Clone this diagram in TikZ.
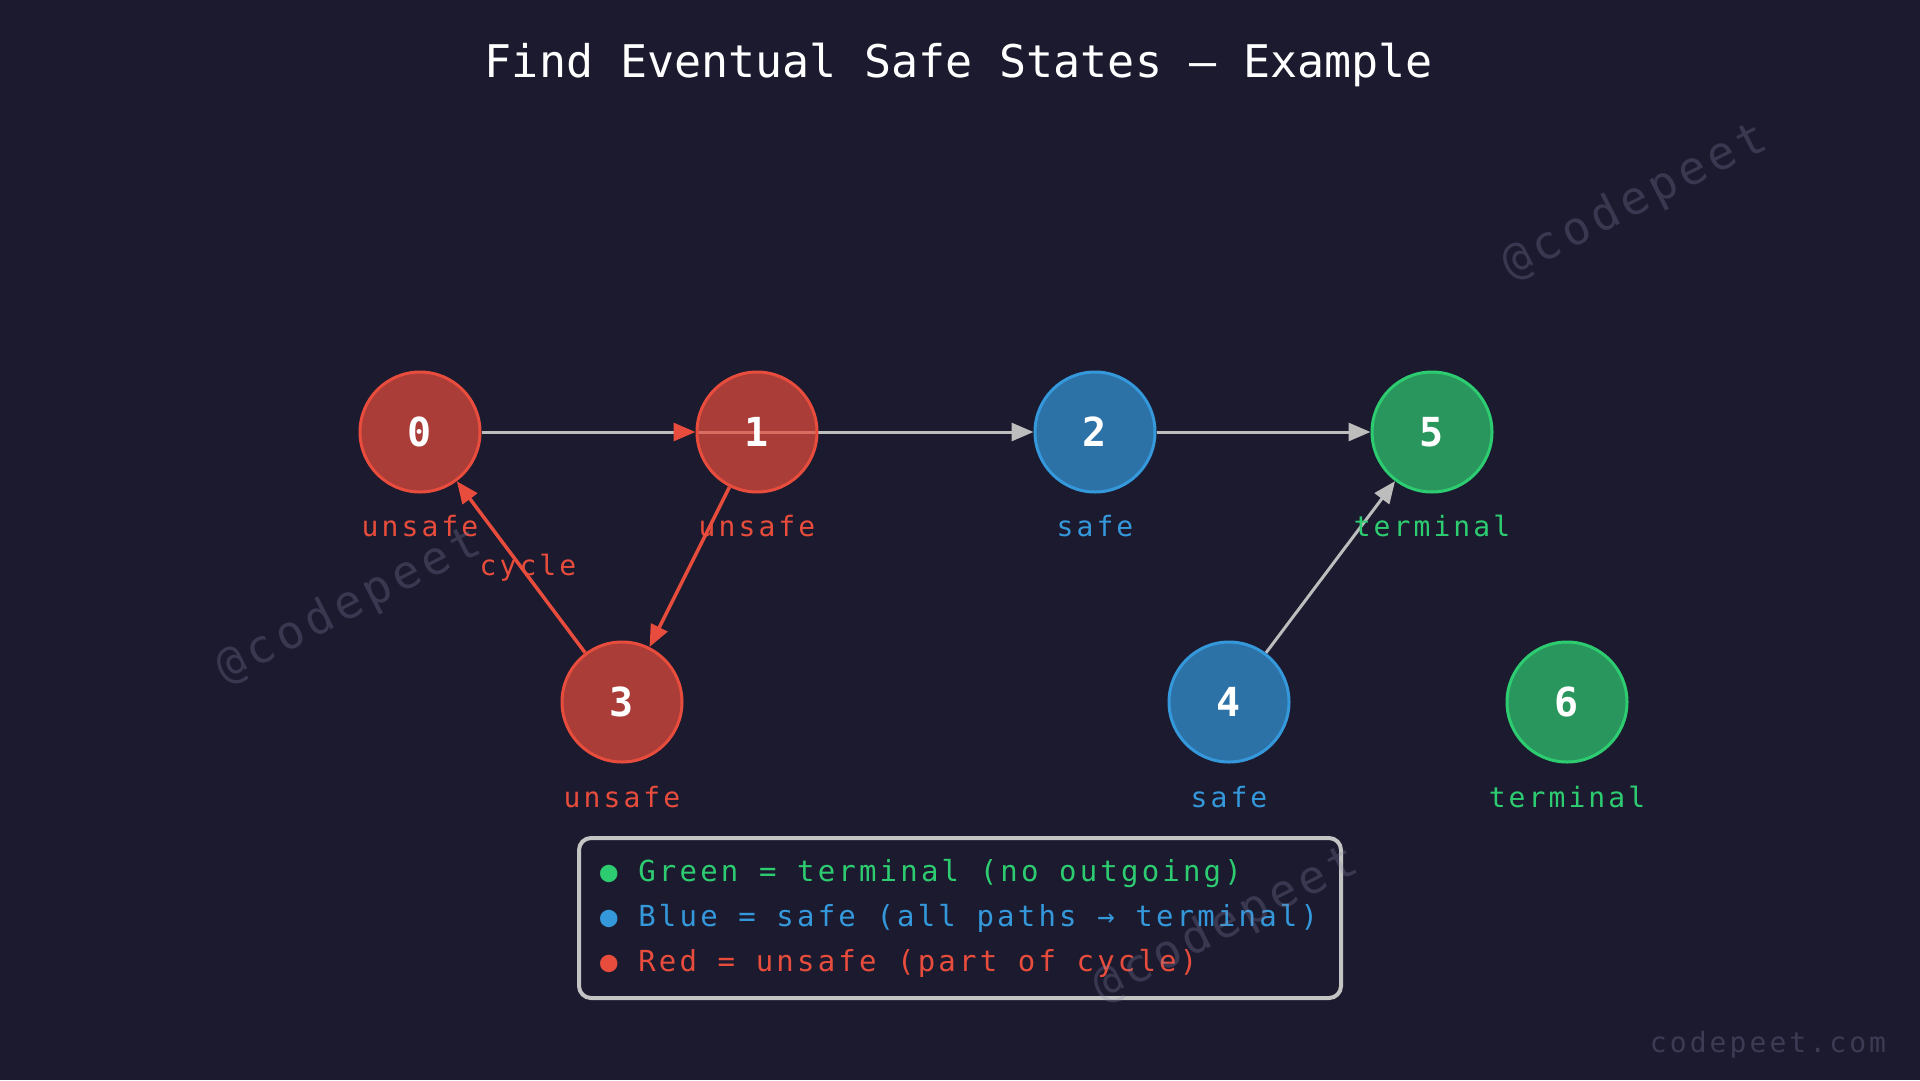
\documentclass[tikz,border=0pt]{standalone}
\usepackage{fontspec}
\setmainfont{DejaVu Sans Mono}
\newfontfamily\spaced[LetterSpace=11]{DejaVu Sans Mono}
\usetikzlibrary{arrows.meta,backgrounds}
\definecolor{bg}{HTML}{1B1A2E}
\definecolor{redc}{HTML}{E74C3C}
\definecolor{bluec}{HTML}{3498DB}
\definecolor{greenc}{HTML}{2ECC71}
\definecolor{edgegray}{HTML}{BDBDBD}
\definecolor{wm}{HTML}{8888AA}
\definecolor{boxgray}{HTML}{C4C4C4}
\tikzset{
  vtx/.style={circle, minimum size=120pt, inner sep=0pt, line width=3pt,
    font=\fontsize{40}{40}\selectfont\bfseries, text=white,
    fill opacity=0.7, text opacity=1},
  redv/.style={vtx, draw=redc, fill=redc},
  bluev/.style={vtx, draw=bluec, fill=bluec},
  greenv/.style={vtx, draw=greenc, fill=greenc},
  lab/.style={anchor=base, inner sep=0pt, font=\spaced\fontsize{28}{34}\selectfont},
  tipg/.style={-{Triangle[length=22pt,width=18pt]}},
  gedge/.style={draw=edgegray, line width=3pt, tipg},
  redge/.style={draw=redc, line width=3.5pt, tipg},
  legtxt/.style={anchor=base west, inner sep=0pt, font=\spaced\fontsize{29}{34}\selectfont},
  wmark/.style={rotate=27, text=wm, text opacity=0.28, font=\spaced\fontsize{46}{50}\selectfont}
}
\begin{document}
\begin{tikzpicture}[x=1pt,y=-1pt]
\begin{pgfonlayer}{background}
\fill[bg] (0,0) rectangle (1920,1080);
\end{pgfonlayer}
\useasboundingbox (0,0) rectangle (1920,1080);

% title
\node[anchor=base, inner sep=0pt, text=white, font=\fontsize{45}{50}\selectfont] (title) at (959,77) {Find Eventual Safe States — Example};

% vertices
\node[redv] (n0) at (420,432) {0};
\node[redv] (n1) at (757,432) {1};
\node[bluev] (n2) at (1095,432) {2};
\node[greenv] (n5) at (1432,432) {5};
\node[redv] (n3) at (622,702) {3};
\node[bluev] (n4) at (1229,702) {4};
\node[greenv] (n6) at (1567,702) {6};

% edges
\begin{pgfonlayer}{background}
\draw[draw=edgegray, line width=3pt, -{Triangle[length=22pt,width=18pt,color=redc]}] (n0) -- (n1);
\draw[gedge] (n1.west) -- (n2);
\draw[gedge] (n2) -- (n5);
\draw[gedge] (n4) -- (n5);
\draw[redge] (n1) -- (n3);
\draw[redge] (n3) -- (n0);
\end{pgfonlayer}

% state labels
\node[lab, text=redc] (l0) at (420,536) {unsafe};
\node[lab, text=redc] (l1) at (757,536) {unsafe};
\node[lab, text=bluec] (l2) at (1095,536) {safe};
\node[lab, text=greenc] (l5) at (1432,536) {terminal};
\node[lab, text=redc] (l3) at (622,807) {unsafe};
\node[lab, text=bluec] (l4) at (1229,807) {safe};
\node[lab, text=greenc] (l6) at (1567,807) {terminal};
\node[lab, text=redc] (cyc) at (528,575) {cycle};

% legend
\draw[boxgray, line width=4pt, fill=bg, rounded corners=12pt] (579,838) rectangle (1341,998);
\node[legtxt, text=greenc] (lg1) at (600,881) {● Green = terminal (no outgoing)};
\node[legtxt, text=bluec] (lg2) at (600,926) {● Blue = safe (all paths → terminal)};
\node[legtxt, text=redc] (lg3) at (600,971) {● Red = unsafe (part of cycle)};

% watermarks
\node[wmark] (wm1) at (1635,202) {@codepeet};
\node[wmark] (wm2) at (349,606) {@codepeet};
\node[wmark] (wm3) at (1226,925) {@codepeet};
\node[anchor=base, inner sep=0pt, text=wm, text opacity=0.3, font=\spaced\fontsize{28}{34}\selectfont] (foot) at (1768,1052) {codepeet.com};
\end{tikzpicture}
\end{document}
